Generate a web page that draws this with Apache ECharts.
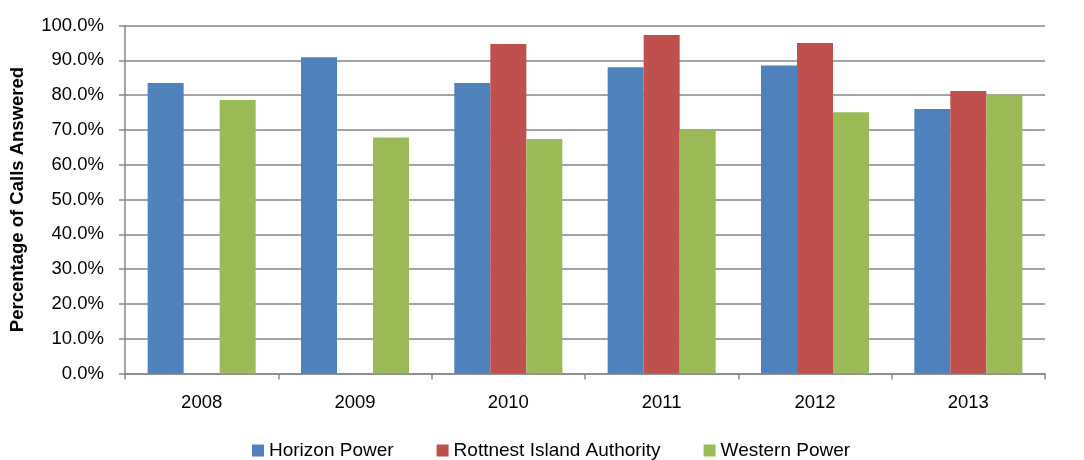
<!DOCTYPE html>
<html><head><meta charset="utf-8">
<script src="https://cdn.jsdelivr.net/npm/echarts@6/dist/echarts.min.js"></script>
<style>html,body{margin:0;padding:0;background:#fff}#c{width:1084px;height:460px}</style>
</head><body><div id="c"></div>
<script>
const categories = ['2008','2009','2010','2011','2012','2013'];
const horizon = [83.5, 90.9, 83.5, 88.0, 88.5, 76.0];
const rottnest = [null, null, 94.7, 97.3, 95.0, 81.2];
const western = [78.6, 67.8, 67.4, 70.0, 75.1, 80.1];
const seriesNames = ['Horizon Power','Rottnest Island Authority','Western Power'];
const colors = ['#4F81BD','#C0504D','#9BBB59'];
const FONT = 'Liberation Sans';
const chart = echarts.init(document.getElementById('c'));
const mk = (name, data, color) => ({
  name, type:'bar', data, barWidth:36, barGap:'0%',
  itemStyle:{color}, animation:false
});
chart.setOption({
  animation:false,
  textStyle:{fontFamily:FONT},
  grid:{left:125, right:39, top:25.5, bottom:86.5},
  legend:{
    top:436, left:247, itemWidth:12, itemHeight:12, itemGap:43,
    icon:'rect',
    textStyle:{fontFamily:FONT, fontSize:19, color:'#000'},
    data:seriesNames
  },
  xAxis:{
    type:'category', data:categories, boundaryGap:true,
    axisLine:{lineStyle:{color:'#868686', width:1.5}},
    axisTick:{show:true, length:6, alignWithLabel:false, lineStyle:{color:'#868686', width:1.5}},
    axisLabel:{fontFamily:FONT, fontSize:18.5, color:'#000', margin:20}
  },
  yAxis:{
    type:'value', min:0, max:100, interval:10,
    name:'Percentage of Calls Answered', nameLocation:'middle', nameGap:98,
    nameTextStyle:{fontFamily:FONT, fontSize:18.5, fontWeight:'bold', color:'#000'},
    axisLine:{show:true, lineStyle:{color:'#868686', width:1.5}},
    axisTick:{show:true, length:6, lineStyle:{color:'#868686', width:1.5}},
    splitLine:{lineStyle:{color:'#868686', width:1.5}},
    axisLabel:{fontFamily:FONT, fontSize:18.5, color:'#000', margin:21,
      formatter:v=>v.toFixed(1)+'%'}
  },
  series:[mk(seriesNames[0],horizon,colors[0]), mk(seriesNames[1],rottnest,colors[1]), mk(seriesNames[2],western,colors[2])]
});
</script></body></html>
